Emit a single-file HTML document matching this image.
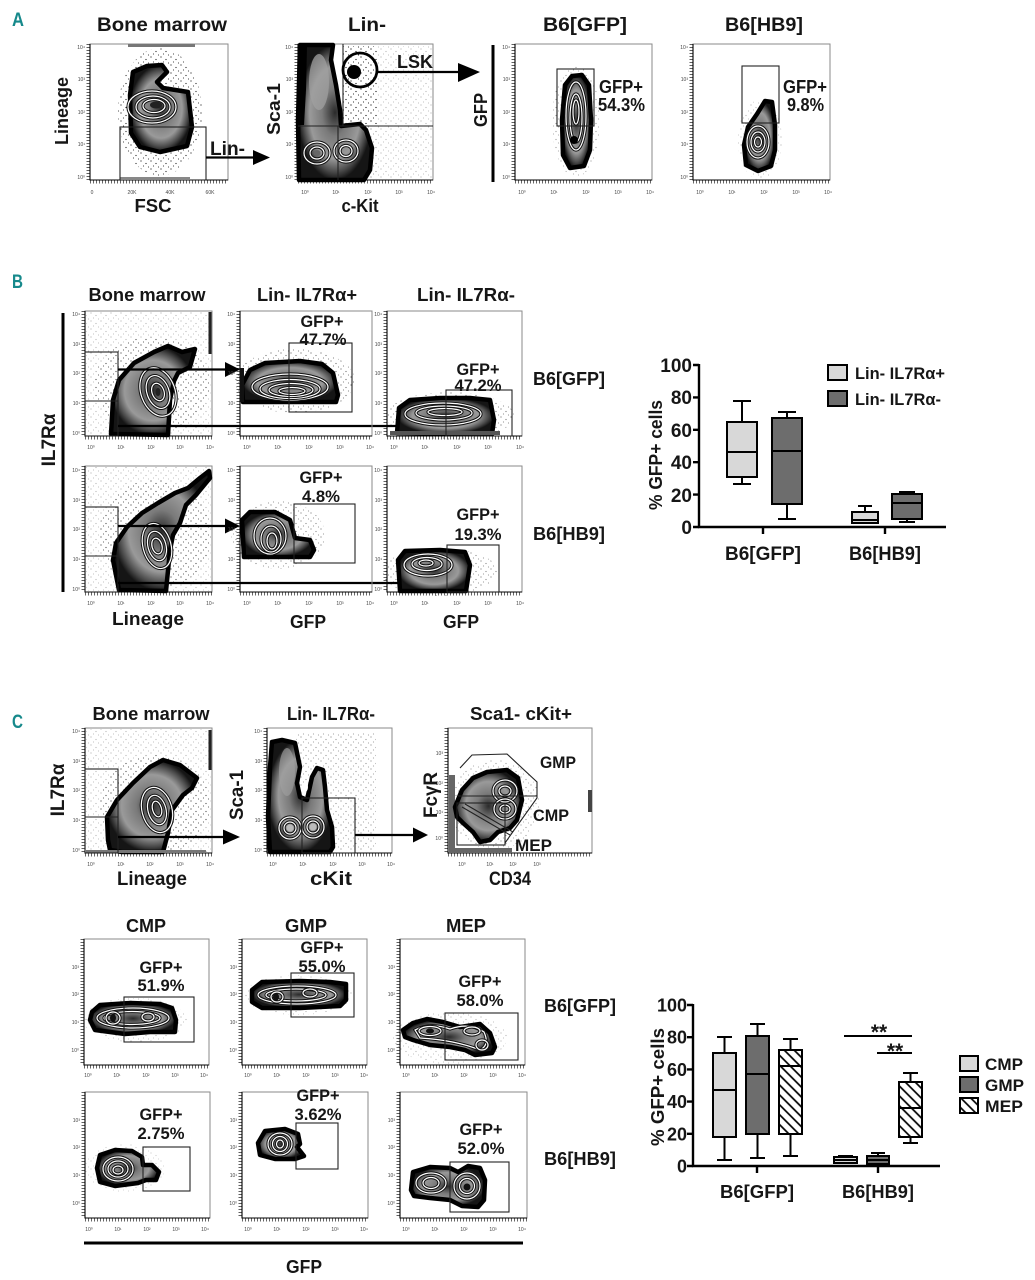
<!DOCTYPE html>
<html><head><meta charset="utf-8"><style>
html,body{margin:0;padding:0;background:#fff}
svg{display:block}
.t{font-family:"Liberation Sans",Arial,sans-serif;font-weight:bold;fill:#161616}
.tk{font-family:"Liberation Sans",Arial,sans-serif;font-size:5px;fill:#444}
.bx{fill:none;stroke:#8a8a8a;stroke-width:1}
.ax{fill:none;stroke:#000;stroke-width:1.1}
.mt{fill:none;stroke:#000;stroke-width:3;stroke-dasharray:.6 2.4}
.g{fill:none;stroke:#222;stroke-width:1.1}
.bl{fill:url(#zg);stroke:#000;stroke-width:4.5;stroke-linejoin:round}
.rk{fill:none;stroke:#111;stroke-width:3.2}
.rw{fill:none;stroke:#fff;stroke-width:1.2}
.ar{fill:none;stroke:#000;stroke-width:2.2}
.th{fill:none;stroke:#000;stroke-width:3}
.ca{fill:none;stroke:#000;stroke-width:2.4}
.bxl{fill:#d8d8d8;stroke:#000;stroke-width:2}
.bxd{fill:#6d6d6d;stroke:#000;stroke-width:2}
.bxh{fill:url(#hatch);stroke:#000;stroke-width:2}
.wh{fill:none;stroke:#000;stroke-width:2}
.lab{font-family:"Liberation Sans",Arial,sans-serif;font-weight:bold;fill:#16898b}
</style></head><body>
<svg width="1035" height="1280" viewBox="0 0 1035 1280" xmlns="http://www.w3.org/2000/svg">
<defs>
<radialGradient id="zg"><stop offset="0" stop-color="#2a2a2a"/><stop offset=".35" stop-color="#7a7a7a"/><stop offset=".68" stop-color="#9a9a9a"/><stop offset=".88" stop-color="#4a4a4a"/><stop offset="1" stop-color="#151515"/></radialGradient>
<pattern id="sp" width="10" height="8" patternUnits="userSpaceOnUse"><circle cx="1" cy="1" r=".6" fill="#000"/><circle cx="6" cy="3.5" r=".6" fill="#000"/><circle cx="8.5" cy="7" r=".55" fill="#000"/><circle cx="3.5" cy="6" r=".55" fill="#000"/></pattern>
<pattern id="hatch" width="7" height="7" patternUnits="userSpaceOnUse" patternTransform="rotate(-45)"><rect width="7" height="7" fill="#fff"/><line x1="1" y1="0" x2="1" y2="7" stroke="#000" stroke-width="1.7"/></pattern>
</defs>
<rect width="1035" height="1280" fill="#fff"/>

<!-- ================= A ================= -->
<text class="lab" x="12" y="26" font-size="19" textLength="12" lengthAdjust="spacingAndGlyphs">A</text>
<text class="t" x="162" y="31" font-size="19" text-anchor="middle" textLength="130" lengthAdjust="spacingAndGlyphs">Bone marrow</text>
<text class="t" x="367" y="31" font-size="19" text-anchor="middle" textLength="38" lengthAdjust="spacingAndGlyphs">Lin-</text>
<text class="t" x="585" y="31" font-size="19" text-anchor="middle" textLength="84" lengthAdjust="spacingAndGlyphs">B6[GFP]</text>
<text class="t" x="764" y="31" font-size="19" text-anchor="middle" textLength="78" lengthAdjust="spacingAndGlyphs">B6[HB9]</text>

<!-- A1 frame -->
<rect class="bx" x="90" y="44" width="138" height="136"/>
<path class="ax" d="M90 44V180H228"/><path class="mt" d="M88 44V180M90 182H228"/>
<text class="tk" text-anchor="end"><tspan x="85" y="49">10⁴</tspan><tspan x="85" y="81">10³</tspan><tspan x="85" y="114">10²</tspan><tspan x="85" y="146">10¹</tspan><tspan x="85" y="179">10⁰</tspan></text>
<text class="tk" text-anchor="middle"><tspan x="92" y="194">0</tspan><tspan x="132" y="194">20K</tspan><tspan x="170" y="194">40K</tspan><tspan x="210" y="194">60K</tspan></text>
<ellipse cx="160" cy="112" rx="42" ry="64" fill="url(#sp)" opacity=".9"/>
<rect x="128" y="44" width="67" height="3" fill="#777"/><rect x="120" y="177" width="70" height="2" fill="#888"/>
<path class="bl" d="M133 72L147 66L162 65L167 72L157 82L163 88L188 92L192 127L187 146L160 152L140 147L131 133L130 95Z"/>
<ellipse class="rk" cx="152" cy="107" rx="24" ry="16"/><ellipse class="rw" cx="152" cy="107" rx="24" ry="16"/>
<ellipse class="rk" cx="153" cy="107" rx="17" ry="11"/><ellipse class="rw" cx="153" cy="107" rx="17" ry="11"/>
<ellipse class="rk" cx="154" cy="106" rx="11" ry="6.5"/><ellipse class="rw" cx="154" cy="106" rx="11" ry="6.5"/>
<ellipse cx="156" cy="105" rx="6" ry="3.5" fill="#222"/>
<rect class="g" x="120" y="127" width="86" height="53"/>
<text class="t" x="210" y="155" font-size="19" textLength="35" lengthAdjust="spacingAndGlyphs">Lin-</text>
<path class="ar" d="M206 157.5H255"/><path d="M253 150L270 157.5L253 165Z"/>
<text class="t" transform="translate(68,111) rotate(-90)" font-size="18" text-anchor="middle" textLength="68" lengthAdjust="spacingAndGlyphs">Lineage</text>
<text class="t" x="153" y="212" font-size="18.5" text-anchor="middle" textLength="37" lengthAdjust="spacingAndGlyphs">FSC</text>

<!-- A2 frame -->
<rect class="bx" x="298" y="44" width="135" height="136"/>
<path class="ax" d="M298 44V180H433"/><path class="mt" d="M296 44V180M298 182H433"/>
<text class="tk" text-anchor="end"><tspan x="293" y="49">10⁴</tspan><tspan x="293" y="81">10³</tspan><tspan x="293" y="114">10²</tspan><tspan x="293" y="146">10¹</tspan><tspan x="293" y="179">10⁰</tspan></text>
<text class="tk" text-anchor="middle"><tspan x="305" y="194">10⁰</tspan><tspan x="336" y="194">10¹</tspan><tspan x="368" y="194">10²</tspan><tspan x="399" y="194">10³</tspan><tspan x="431" y="194">10⁴</tspan></text>
<rect x="343" y="46" width="35" height="78" fill="url(#sp)" opacity="1"/>
<rect x="378" y="46" width="55" height="133" fill="url(#sp)" opacity=".3"/>
<rect x="343" y="126" width="35" height="53" fill="url(#sp)" opacity=".45"/>
<path class="bl" d="M300 45L333 45L331 60L336 85L340 110L341 126L360 124L366 130L372 148L370 170L364 180L299 180L298 120Z"/>
<path d="M301 46L307 46L306 90L304 125L300 125Z" fill="#000"/>
<ellipse cx="319" cy="82" rx="10" ry="28" fill="#a0a0a0" opacity=".75"/>
<ellipse class="rk" cx="317" cy="153" rx="13" ry="11"/><ellipse class="rw" cx="317" cy="153" rx="13" ry="11"/>
<ellipse class="rk" cx="317" cy="153" rx="7" ry="6"/><ellipse class="rw" cx="317" cy="153" rx="7" ry="6"/>
<ellipse cx="317" cy="153" rx="3.5" ry="3" fill="#666"/>
<ellipse class="rk" cx="346" cy="151" rx="12" ry="11"/><ellipse class="rw" cx="346" cy="151" rx="12" ry="11"/>
<ellipse class="rk" cx="346" cy="151" rx="6" ry="5.5"/><ellipse class="rw" cx="346" cy="151" rx="6" ry="5.5"/>
<path class="g" d="M343 44V126M338 126V180M298 126H433"/>
<circle cx="354" cy="72" r="7" fill="#000"/>
<circle cx="360" cy="70" r="17" fill="none" stroke="#000" stroke-width="2.8"/>
<text class="t" x="397" y="68" font-size="18" textLength="36" lengthAdjust="spacingAndGlyphs">LSK</text>
<path class="ar" d="M377 72H460"/><path d="M458 63L480 72L458 82Z"/>
<text class="t" transform="translate(280,109) rotate(-90)" font-size="18" text-anchor="middle" textLength="52" lengthAdjust="spacingAndGlyphs">Sca-1</text>
<text class="t" x="360" y="212" font-size="18" text-anchor="middle" textLength="37" lengthAdjust="spacingAndGlyphs">c-Kit</text>

<!-- A GFP axis -->
<path class="th" d="M493 45V182"/>
<text class="t" transform="translate(487,110) rotate(-90)" font-size="18" text-anchor="middle" textLength="34" lengthAdjust="spacingAndGlyphs">GFP</text>

<!-- A3 frame -->
<rect class="bx" x="515" y="44" width="137" height="136"/>
<path class="ax" d="M515 44V180H652"/><path class="mt" d="M513 44V180M515 182H652"/>
<text class="tk" text-anchor="end"><tspan x="510" y="49">10⁴</tspan><tspan x="510" y="81">10³</tspan><tspan x="510" y="114">10²</tspan><tspan x="510" y="146">10¹</tspan><tspan x="510" y="179">10⁰</tspan></text>
<text class="tk" text-anchor="middle"><tspan x="522" y="194">10⁰</tspan><tspan x="554" y="194">10¹</tspan><tspan x="586" y="194">10²</tspan><tspan x="618" y="194">10³</tspan><tspan x="650" y="194">10⁴</tspan></text>
<ellipse cx="576" cy="121" rx="24" ry="56" fill="url(#sp)" opacity=".4"/>
<path class="bl" d="M565 85L572 76L582 75L589 85L591 120L590 150L584 166L570 168L563 155L562 120Z"/>
<ellipse class="rk" cx="576" cy="116" rx="10" ry="34"/><ellipse class="rw" cx="576" cy="116" rx="10" ry="34"/>
<ellipse class="rk" cx="576" cy="118" rx="6" ry="24"/><ellipse class="rw" cx="576" cy="118" rx="6" ry="24"/>
<ellipse class="rk" cx="576" cy="112" rx="3" ry="12"/><ellipse class="rw" cx="576" cy="112" rx="3" ry="12"/>
<circle cx="574" cy="140" r="4" fill="#000"/>
<rect class="g" x="557" y="69" width="37" height="57"/>
<text class="t" x="599" y="93" font-size="18" textLength="44" lengthAdjust="spacingAndGlyphs">GFP+</text>
<text class="t" x="598" y="111" font-size="18" textLength="47" lengthAdjust="spacingAndGlyphs">54.3%</text>

<!-- A4 frame -->
<rect class="bx" x="693" y="44" width="137" height="136"/>
<path class="ax" d="M693 44V180H830"/><path class="mt" d="M691 44V180M693 182H830"/>
<text class="tk" text-anchor="end"><tspan x="688" y="49">10⁴</tspan><tspan x="688" y="81">10³</tspan><tspan x="688" y="114">10²</tspan><tspan x="688" y="146">10¹</tspan><tspan x="688" y="179">10⁰</tspan></text>
<text class="tk" text-anchor="middle"><tspan x="700" y="194">10⁰</tspan><tspan x="732" y="194">10¹</tspan><tspan x="764" y="194">10²</tspan><tspan x="796" y="194">10³</tspan><tspan x="828" y="194">10⁴</tspan></text>
<ellipse cx="760" cy="140" rx="22" ry="40" fill="url(#sp)" opacity=".3"/>
<path class="bl" d="M765 101L772 102L775 125L775 150L771 166L758 171L746 165L744 145L748 127L757 114Z"/>
<ellipse class="rk" cx="758" cy="142" rx="11" ry="16"/><ellipse class="rw" cx="758" cy="142" rx="11" ry="16"/>
<ellipse class="rk" cx="758" cy="142" rx="7" ry="10"/><ellipse class="rw" cx="758" cy="142" rx="7" ry="10"/>
<ellipse class="rk" cx="758" cy="142" rx="3.5" ry="5"/><ellipse class="rw" cx="758" cy="142" rx="3.5" ry="5"/>
<rect class="g" x="742" y="66" width="37" height="57"/>
<text class="t" x="783" y="93" font-size="18" textLength="44" lengthAdjust="spacingAndGlyphs">GFP+</text>
<text class="t" x="787" y="111" font-size="18" textLength="37" lengthAdjust="spacingAndGlyphs">9.8%</text>

<!-- ================= B ================= -->
<text class="lab" x="12" y="288" font-size="19" textLength="11" lengthAdjust="spacingAndGlyphs">B</text>
<text class="t" x="147" y="301" font-size="18" text-anchor="middle" textLength="117" lengthAdjust="spacingAndGlyphs">Bone marrow</text>
<text class="t" x="307" y="301" font-size="18" text-anchor="middle" textLength="100" lengthAdjust="spacingAndGlyphs">Lin- IL7Rα+</text>
<text class="t" x="466" y="301" font-size="18" text-anchor="middle" textLength="98" lengthAdjust="spacingAndGlyphs">Lin- IL7Rα-</text>
<path class="th" d="M63 313V592"/>
<text class="t" transform="translate(55,440) rotate(-90)" font-size="19" text-anchor="middle">IL7Rα</text>
<text class="t" x="533" y="385" font-size="18" textLength="72" lengthAdjust="spacingAndGlyphs">B6[GFP]</text>
<text class="t" x="533" y="540" font-size="18" textLength="72" lengthAdjust="spacingAndGlyphs">B6[HB9]</text>
<text class="t" x="148" y="625" font-size="18.5" text-anchor="middle" textLength="72" lengthAdjust="spacingAndGlyphs">Lineage</text>
<text class="t" x="308" y="628" font-size="18.5" text-anchor="middle" textLength="36" lengthAdjust="spacingAndGlyphs">GFP</text>
<text class="t" x="461" y="628" font-size="18.5" text-anchor="middle" textLength="36" lengthAdjust="spacingAndGlyphs">GFP</text>

<!-- B row1 P1 -->
<rect class="bx" x="85" y="311" width="127" height="125"/>
<path class="ax" d="M85 311V436H212"/><path class="mt" d="M83 311V436M85 438H212"/>
<text class="tk" text-anchor="end"><tspan x="80" y="316">10⁴</tspan><tspan x="80" y="346">10³</tspan><tspan x="80" y="375">10²</tspan><tspan x="80" y="405">10¹</tspan><tspan x="80" y="435">10⁰</tspan></text>
<text class="tk" text-anchor="middle"><tspan x="91" y="449">10⁰</tspan><tspan x="121" y="449">10¹</tspan><tspan x="151" y="449">10²</tspan><tspan x="180" y="449">10³</tspan><tspan x="210" y="449">10⁴</tspan></text>
<rect x="86" y="312" width="125" height="123" fill="url(#sp)" opacity=".3"/>
<ellipse cx="152" cy="385" rx="58" ry="48" fill="url(#sp)" opacity=".6"/>
<rect x="208.5" y="312" width="3" height="42" fill="#222"/>
<path class="bl" d="M111 434L113 400L119 380L134 363L154 352L168 346L182 352L195 349L190 367L178 373L174 381L170 400L168 435Z"/>
<ellipse class="rk" cx="158" cy="392" rx="17" ry="25" transform="rotate(-20 158 392)"/><ellipse class="rw" cx="158" cy="392" rx="17" ry="25" transform="rotate(-20 158 392)"/>
<ellipse class="rk" cx="158" cy="392" rx="11" ry="17" transform="rotate(-20 158 392)"/><ellipse class="rw" cx="158" cy="392" rx="11" ry="17" transform="rotate(-20 158 392)"/>
<ellipse class="rk" cx="158" cy="392" rx="6" ry="9" transform="rotate(-20 158 392)"/><ellipse class="rw" cx="158" cy="392" rx="6" ry="9" transform="rotate(-20 158 392)"/>
<ellipse cx="158" cy="392" rx="2.5" ry="4" fill="#222"/>
<rect class="g" x="85" y="352" width="33" height="84"/><path class="g" d="M85 401H118"/>
<path class="ar" d="M118 369.5H228"/><path d="M225 362L240 369.5L225 377Z"/>
<path class="ar" d="M118 426H408"/>

<!-- B row1 P2 -->
<rect class="bx" x="240" y="311" width="132" height="125"/>
<path class="ax" d="M240 311V436H372"/><path class="mt" d="M238 311V436M240 438H372"/>
<text class="tk" text-anchor="end"><tspan x="235" y="316">10⁴</tspan><tspan x="235" y="346">10³</tspan><tspan x="235" y="375">10²</tspan><tspan x="235" y="405">10¹</tspan><tspan x="235" y="435">10⁰</tspan></text>
<text class="tk" text-anchor="middle"><tspan x="247" y="449">10⁰</tspan><tspan x="278" y="449">10¹</tspan><tspan x="309" y="449">10²</tspan><tspan x="340" y="449">10³</tspan><tspan x="370" y="449">10⁴</tspan></text>
<ellipse cx="295" cy="381" rx="60" ry="32" fill="url(#sp)" opacity=".6"/>
<path class="bl" d="M243 402L242 385L250 370L265 363L300 361L322 364L333 373L338 395L336 402Z"/>
<rect x="240" y="368" width="4" height="34" fill="#111"/>
<ellipse class="rk" cx="290" cy="387" rx="38" ry="13"/><ellipse class="rw" cx="290" cy="387" rx="38" ry="13"/>
<ellipse class="rk" cx="290" cy="389" rx="30" ry="9.5"/><ellipse class="rw" cx="290" cy="389" rx="30" ry="9.5"/>
<ellipse class="rk" cx="291" cy="390" rx="22" ry="6.5"/><ellipse class="rw" cx="291" cy="390" rx="22" ry="6.5"/>
<ellipse class="rk" cx="292" cy="391" rx="13" ry="3.5"/><ellipse class="rw" cx="292" cy="391" rx="13" ry="3.5"/>
<rect class="g" x="289" y="343" width="63" height="69"/>
<text class="t" x="322" y="327" font-size="17" text-anchor="middle" textLength="43" lengthAdjust="spacingAndGlyphs">GFP+</text>
<text class="t" x="323" y="345" font-size="17" text-anchor="middle" textLength="47" lengthAdjust="spacingAndGlyphs">47.7%</text>

<!-- B row1 P3 -->
<rect class="bx" x="387" y="311" width="135" height="125"/>
<path class="ax" d="M387 311V436H522"/><path class="mt" d="M385 311V436M387 438H522"/>
<text class="tk" text-anchor="end"><tspan x="382" y="316">10⁴</tspan><tspan x="382" y="346">10³</tspan><tspan x="382" y="375">10²</tspan><tspan x="382" y="405">10¹</tspan><tspan x="382" y="435">10⁰</tspan></text>
<text class="tk" text-anchor="middle"><tspan x="394" y="449">10⁰</tspan><tspan x="425" y="449">10¹</tspan><tspan x="457" y="449">10²</tspan><tspan x="488" y="449">10³</tspan><tspan x="520" y="449">10⁴</tspan></text>
<ellipse cx="450" cy="416" rx="64" ry="24" fill="url(#sp)" opacity=".55"/>
<path class="bl" d="M397 433L399 408L410 400L440 398L470 398L490 400L494 420L492 434Z"/>
<rect x="390" y="431" width="110" height="4" fill="#555"/>
<ellipse class="rk" cx="443" cy="414" rx="38" ry="11"/><ellipse class="rw" cx="443" cy="414" rx="38" ry="11"/>
<ellipse class="rk" cx="444" cy="413" rx="28" ry="7"/><ellipse class="rw" cx="444" cy="413" rx="28" ry="7"/>
<ellipse class="rk" cx="445" cy="412" rx="17" ry="3.5"/><ellipse class="rw" cx="445" cy="412" rx="17" ry="3.5"/>
<rect class="g" x="446" y="390" width="66" height="46"/>
<text class="t" x="478" y="375" font-size="17" text-anchor="middle" textLength="43" lengthAdjust="spacingAndGlyphs">GFP+</text>
<text class="t" x="478" y="391" font-size="17" text-anchor="middle" textLength="47" lengthAdjust="spacingAndGlyphs">47.2%</text>

<!-- B row2 P1 -->
<rect class="bx" x="85" y="466" width="127" height="126"/>
<path class="ax" d="M85 466V592H212"/><path class="mt" d="M83 466V592M85 594H212"/>
<text class="tk" text-anchor="end"><tspan x="80" y="472">10⁴</tspan><tspan x="80" y="502">10³</tspan><tspan x="80" y="531">10²</tspan><tspan x="80" y="561">10¹</tspan><tspan x="80" y="591">10⁰</tspan></text>
<text class="tk" text-anchor="middle"><tspan x="91" y="605">10⁰</tspan><tspan x="121" y="605">10¹</tspan><tspan x="151" y="605">10²</tspan><tspan x="180" y="605">10³</tspan><tspan x="210" y="605">10⁴</tspan></text>
<rect x="86" y="467" width="125" height="124" fill="url(#sp)" opacity=".3"/>
<ellipse cx="155" cy="535" rx="56" ry="55" fill="url(#sp)" opacity=".6"/>
<path class="bl" d="M119 590L113 560L116 543L127 527L142 513L158 503L175 493L188 488L200 478L209 471L210 478L196 495L186 505L180 523L173 535L170 550L166 591Z"/>
<ellipse class="rk" cx="157" cy="546" rx="14" ry="23" transform="rotate(-15 157 546)"/><ellipse class="rw" cx="157" cy="546" rx="14" ry="23" transform="rotate(-15 157 546)"/>
<ellipse class="rk" cx="157" cy="546" rx="9" ry="15" transform="rotate(-15 157 546)"/><ellipse class="rw" cx="157" cy="546" rx="9" ry="15" transform="rotate(-15 157 546)"/>
<ellipse class="rk" cx="157" cy="546" rx="5" ry="8" transform="rotate(-15 157 546)"/><ellipse class="rw" cx="157" cy="546" rx="5" ry="8" transform="rotate(-15 157 546)"/>
<rect class="g" x="85" y="507" width="33" height="85"/><path class="g" d="M85 556H118"/>
<path class="ar" d="M118 526H228"/><path d="M225 518.5L240 526L225 533.5Z"/>
<path class="ar" d="M118 583H420"/>

<!-- B row2 P2 -->
<rect class="bx" x="240" y="466" width="132" height="126"/>
<path class="ax" d="M240 466V592H372"/><path class="mt" d="M238 466V592M240 594H372"/>
<text class="tk" text-anchor="end"><tspan x="235" y="472">10⁴</tspan><tspan x="235" y="502">10³</tspan><tspan x="235" y="531">10²</tspan><tspan x="235" y="561">10¹</tspan><tspan x="235" y="591">10⁰</tspan></text>
<text class="tk" text-anchor="middle"><tspan x="247" y="605">10⁰</tspan><tspan x="278" y="605">10¹</tspan><tspan x="309" y="605">10²</tspan><tspan x="340" y="605">10³</tspan><tspan x="370" y="605">10⁴</tspan></text>
<ellipse cx="278" cy="535" rx="47" ry="34" fill="url(#sp)" opacity=".5"/>
<path class="bl" d="M244 557L242 520L250 512L275 512L290 520L295 538L310 540L314 550L310 557Z"/>
<ellipse class="rk" cx="270" cy="536" rx="16" ry="18"/><ellipse class="rw" cx="270" cy="536" rx="16" ry="18"/>
<ellipse class="rk" cx="271" cy="539" rx="10" ry="13"/><ellipse class="rw" cx="271" cy="539" rx="10" ry="13"/>
<ellipse class="rk" cx="272" cy="541" rx="5" ry="8"/><ellipse class="rw" cx="272" cy="541" rx="5" ry="8"/>
<rect class="g" x="294" y="504" width="61" height="59"/>
<text class="t" x="321" y="483" font-size="17" text-anchor="middle" textLength="43" lengthAdjust="spacingAndGlyphs">GFP+</text>
<text class="t" x="321" y="502" font-size="17" text-anchor="middle" textLength="38" lengthAdjust="spacingAndGlyphs">4.8%</text>

<!-- B row2 P3 -->
<rect class="bx" x="387" y="466" width="135" height="126"/>
<path class="ax" d="M387 466V592H522"/><path class="mt" d="M385 466V592M387 594H522"/>
<text class="tk" text-anchor="end"><tspan x="382" y="472">10⁴</tspan><tspan x="382" y="502">10³</tspan><tspan x="382" y="531">10²</tspan><tspan x="382" y="561">10¹</tspan><tspan x="382" y="591">10⁰</tspan></text>
<text class="tk" text-anchor="middle"><tspan x="394" y="605">10⁰</tspan><tspan x="425" y="605">10¹</tspan><tspan x="457" y="605">10²</tspan><tspan x="488" y="605">10³</tspan><tspan x="520" y="605">10⁴</tspan></text>
<ellipse cx="440" cy="572" rx="58" ry="24" fill="url(#sp)" opacity=".5"/>
<path class="bl" d="M400 591L398 560L405 551L440 550L465 552L470 565L466 591Z"/>
<ellipse class="rk" cx="428" cy="565" rx="24" ry="11"/><ellipse class="rw" cx="428" cy="565" rx="24" ry="11"/>
<ellipse class="rk" cx="427" cy="564" rx="15" ry="6.5"/><ellipse class="rw" cx="427" cy="564" rx="15" ry="6.5"/>
<ellipse class="rk" cx="426" cy="563" rx="7" ry="3"/><ellipse class="rw" cx="426" cy="563" rx="7" ry="3"/>
<rect class="g" x="447" y="545" width="52" height="47"/>
<text class="t" x="478" y="520" font-size="17" text-anchor="middle" textLength="43" lengthAdjust="spacingAndGlyphs">GFP+</text>
<text class="t" x="478" y="540" font-size="17" text-anchor="middle" textLength="47" lengthAdjust="spacingAndGlyphs">19.3%</text>

<!-- B chart -->
<path class="ca" d="M699 364V527H946"/>
<path class="ca" d="M693 365H699M693 397.4H699M693 429.8H699M693 462.2H699M693 494.6H699M693 527H699M763 527V534M885 527V534"/>
<g class="t" font-size="19" text-anchor="end">
<text x="692" y="372">100</text><text x="692" y="404">80</text><text x="692" y="437">60</text><text x="692" y="469">40</text><text x="692" y="502">20</text><text x="692" y="534">0</text>
</g>
<text class="t" transform="translate(662,455) rotate(-90)" font-size="18" text-anchor="middle" textLength="110" lengthAdjust="spacingAndGlyphs">% GFP+ cells</text>
<path class="wh" d="M742 401V422M742 477V484M733 401H751M733 484H751"/>
<rect class="bxl" x="727" y="422" width="30" height="55"/><path class="wh" d="M727 452H757"/>
<path class="wh" d="M787 412V418M787 504V519M778 412H796M778 519H796"/>
<rect class="bxd" x="772" y="418" width="30" height="86"/><path class="wh" d="M772 451H802"/>
<path class="wh" d="M865 506V512M858 506H872"/>
<rect class="bxl" x="852" y="512" width="26" height="11"/><path class="wh" d="M852 520H878"/>
<path class="wh" d="M907 492V495M907 519V522M899 492H915M899 522H915"/>
<rect class="bxd" x="892" y="494" width="30" height="25"/><path class="wh" d="M892 503H922"/>
<text class="t" x="763" y="560" font-size="19" text-anchor="middle" textLength="76" lengthAdjust="spacingAndGlyphs">B6[GFP]</text>
<text class="t" x="885" y="560" font-size="19" text-anchor="middle" textLength="72" lengthAdjust="spacingAndGlyphs">B6[HB9]</text>
<rect class="bxl" x="828" y="365" width="19" height="15"/>
<rect class="bxd" x="828" y="391" width="19" height="15"/>
<text class="t" x="855" y="379" font-size="17" textLength="90" lengthAdjust="spacingAndGlyphs">Lin- IL7Rα+</text>
<text class="t" x="855" y="405" font-size="17" textLength="86" lengthAdjust="spacingAndGlyphs">Lin- IL7Rα-</text>

<!-- ================= C ================= -->
<text class="lab" x="12" y="728" font-size="19" textLength="11" lengthAdjust="spacingAndGlyphs">C</text>
<text class="t" x="151" y="720" font-size="18" text-anchor="middle" textLength="117" lengthAdjust="spacingAndGlyphs">Bone marrow</text>
<text class="t" x="331" y="720" font-size="18" text-anchor="middle" textLength="88" lengthAdjust="spacingAndGlyphs">Lin- IL7Rα-</text>
<text class="t" x="521" y="720" font-size="18" text-anchor="middle" textLength="102" lengthAdjust="spacingAndGlyphs">Sca1- cKit+</text>
<text class="t" transform="translate(64,790) rotate(-90)" font-size="19" text-anchor="middle">IL7Rα</text>
<text class="t" transform="translate(243,795) rotate(-90)" font-size="19" text-anchor="middle" textLength="50" lengthAdjust="spacingAndGlyphs">Sca-1</text>
<text class="t" transform="translate(437,795) rotate(-90)" font-size="19" text-anchor="middle" textLength="46" lengthAdjust="spacingAndGlyphs">FcγR</text>
<text class="t" x="152" y="885" font-size="19" text-anchor="middle" textLength="70" lengthAdjust="spacingAndGlyphs">Lineage</text>
<text class="t" x="331" y="885" font-size="19" text-anchor="middle" textLength="42" lengthAdjust="spacingAndGlyphs">cKit</text>
<text class="t" x="510" y="885" font-size="19" text-anchor="middle" textLength="42" lengthAdjust="spacingAndGlyphs">CD34</text>

<!-- C top P1 -->
<rect class="bx" x="85" y="728" width="127" height="125"/>
<path class="ax" d="M85 728V853H212"/><path class="mt" d="M83 728V853M85 855H212"/>
<text class="tk" text-anchor="end"><tspan x="80" y="733">10⁴</tspan><tspan x="80" y="763">10³</tspan><tspan x="80" y="792">10²</tspan><tspan x="80" y="822">10¹</tspan><tspan x="80" y="852">10⁰</tspan></text>
<text class="tk" text-anchor="middle"><tspan x="91" y="866">10⁰</tspan><tspan x="121" y="866">10¹</tspan><tspan x="150" y="866">10²</tspan><tspan x="180" y="866">10³</tspan><tspan x="210" y="866">10⁴</tspan></text>
<rect x="86" y="729" width="125" height="123" fill="url(#sp)" opacity=".3"/>
<ellipse cx="155" cy="805" rx="55" ry="50" fill="url(#sp)" opacity=".6"/>
<rect x="208.5" y="730" width="3" height="40" fill="#222"/>
<path class="bl" d="M108 840L107 817L117 800L133 783L150 767L163 760L180 765L197 778L192 788L183 795L172 810L168 833L163 852L122 852L110 850Z"/>
<ellipse class="rk" cx="157" cy="810" rx="15" ry="23" transform="rotate(-15 157 810)"/><ellipse class="rw" cx="157" cy="810" rx="15" ry="23" transform="rotate(-15 157 810)"/>
<ellipse class="rk" cx="157" cy="810" rx="9" ry="15" transform="rotate(-15 157 810)"/><ellipse class="rw" cx="157" cy="810" rx="9" ry="15" transform="rotate(-15 157 810)"/>
<ellipse class="rk" cx="157" cy="809" rx="4.5" ry="8" transform="rotate(-15 157 809)"/><ellipse class="rw" cx="157" cy="809" rx="4.5" ry="8" transform="rotate(-15 157 809)"/>
<rect x="86" y="850" width="120" height="3" fill="#777"/>
<rect class="g" x="85" y="769" width="33" height="84"/><path class="g" d="M85 817H118"/>
<path class="ar" d="M118 837H225"/><path d="M223 829.5L240 837L223 844.5Z"/>

<!-- C top P2 -->
<rect class="bx" x="267" y="728" width="125" height="125"/>
<path class="ax" d="M267 728V853H392"/><path class="mt" d="M265 728V853M267 855H392"/>
<text class="tk" text-anchor="end"><tspan x="262" y="733">10⁴</tspan><tspan x="262" y="763">10³</tspan><tspan x="262" y="792">10²</tspan><tspan x="262" y="822">10¹</tspan><tspan x="262" y="852">10⁰</tspan></text>
<text class="tk" text-anchor="middle"><tspan x="273" y="866">10⁰</tspan><tspan x="303" y="866">10¹</tspan><tspan x="333" y="866">10²</tspan><tspan x="362" y="866">10³</tspan><tspan x="391" y="866">10⁴</tspan></text>
<rect x="296" y="733" width="80" height="118" fill="url(#sp)" opacity=".45"/>
<path class="bl" d="M272 742L282 740L295 743L300 767L297 783L300 797L307 800L312 777L317 768L323 770L325 787L327 810L332 827L333 847L330 852L270 852L268 817L270 767Z"/>
<ellipse cx="287" cy="772" rx="8" ry="24" fill="#a0a0a0" opacity=".65"/>
<ellipse cx="305" cy="787" rx="3" ry="5" fill="#fff"/>
<ellipse class="rk" cx="290" cy="828" rx="11" ry="11"/><ellipse class="rw" cx="290" cy="828" rx="11" ry="11"/>
<ellipse class="rk" cx="290" cy="828" rx="6" ry="6"/><ellipse class="rw" cx="290" cy="828" rx="6" ry="6"/>
<ellipse cx="290" cy="828" rx="3.5" ry="3.5" fill="#bbb"/>
<ellipse class="rk" cx="313" cy="827" rx="11" ry="11"/><ellipse class="rw" cx="313" cy="827" rx="11" ry="11"/>
<ellipse class="rk" cx="313" cy="827" rx="6" ry="6"/><ellipse class="rw" cx="313" cy="827" rx="6" ry="6"/>
<ellipse cx="313" cy="827" rx="3.5" ry="3.5" fill="#bbb"/>
<rect class="g" x="302" y="798" width="53" height="55"/>
<path class="ar" d="M355 835H415"/><path d="M413 827.5L428 835L413 842.5Z"/>

<!-- C top P3 -->
<rect class="bx" x="448" y="728" width="144" height="125"/>
<path class="ax" d="M448 728V853H592"/><path class="mt" d="M446 728V853M448 855H592"/>
<text class="tk" text-anchor="end"><tspan x="443" y="755">10³</tspan><tspan x="443" y="785">10²</tspan><tspan x="443" y="814">10¹</tspan><tspan x="443" y="840">10⁰</tspan></text>
<text class="tk" text-anchor="middle"><tspan x="462" y="866">10⁰</tspan><tspan x="490" y="866">10¹</tspan><tspan x="513" y="866">10²</tspan><tspan x="537" y="866">10³</tspan></text>
<ellipse cx="495" cy="805" rx="45" ry="45" fill="url(#sp)" opacity=".4"/>
<rect x="449" y="775" width="6" height="78" fill="#666"/>
<rect x="450" y="848" width="62" height="5" fill="#666"/>
<rect x="588" y="790" width="4" height="22" fill="#444"/>
<path class="bl" d="M455 807L462 790L473 778L487 772L507 770L518 778L522 800L517 820L510 828L498 832L490 840L480 842L473 832L463 823L457 817Z"/>
<ellipse class="rk" cx="505" cy="791" rx="12" ry="11"/><ellipse class="rw" cx="505" cy="791" rx="12" ry="11"/>
<ellipse class="rk" cx="505" cy="791" rx="6" ry="5"/><ellipse class="rw" cx="505" cy="791" rx="6" ry="5"/>
<ellipse class="rk" cx="505" cy="809" rx="11" ry="10"/><ellipse class="rw" cx="505" cy="809" rx="11" ry="10"/>
<ellipse class="rk" cx="505" cy="809" rx="5" ry="4"/><ellipse class="rw" cx="505" cy="809" rx="5" ry="4"/>
<path class="g" d="M460 768L472 755L507 754L537 782L537 798L512 833L505 843"/>
<rect class="g" x="457" y="803" width="48" height="42"/>
<path class="g" d="M458 796H537M462 807L510 835M465 804L513 832"/>
<text class="t" x="540" y="768" font-size="17" textLength="36" lengthAdjust="spacingAndGlyphs">GMP</text>
<text class="t" x="533" y="821" font-size="17" textLength="36" lengthAdjust="spacingAndGlyphs">CMP</text>
<text class="t" x="515" y="851" font-size="17" textLength="37" lengthAdjust="spacingAndGlyphs">MEP</text>

<!-- C bottom titles -->
<text class="t" x="146" y="932" font-size="18" text-anchor="middle" textLength="40" lengthAdjust="spacingAndGlyphs">CMP</text>
<text class="t" x="306" y="932" font-size="18" text-anchor="middle" textLength="42" lengthAdjust="spacingAndGlyphs">GMP</text>
<text class="t" x="466" y="932" font-size="18" text-anchor="middle" textLength="40" lengthAdjust="spacingAndGlyphs">MEP</text>
<text class="t" x="544" y="1012" font-size="18" textLength="72" lengthAdjust="spacingAndGlyphs">B6[GFP]</text>
<text class="t" x="544" y="1165" font-size="18" textLength="72" lengthAdjust="spacingAndGlyphs">B6[HB9]</text>
<path class="th" d="M84 1243H523"/>
<text class="t" x="304" y="1273" font-size="18.5" text-anchor="middle" textLength="36" lengthAdjust="spacingAndGlyphs">GFP</text>

<!-- C row1 CMP -->
<rect class="bx" x="84" y="939" width="125" height="126"/>
<path class="ax" d="M84 939V1065H209"/><path class="mt" d="M82 939V1065M84 1067H209"/>
<text class="tk" text-anchor="end"><tspan x="79" y="969">10³</tspan><tspan x="79" y="996">10²</tspan><tspan x="79" y="1024">10¹</tspan><tspan x="79" y="1052">10⁰</tspan></text>
<text class="tk" text-anchor="middle"><tspan x="88" y="1077">10⁰</tspan><tspan x="117" y="1077">10¹</tspan><tspan x="146" y="1077">10²</tspan><tspan x="175" y="1077">10³</tspan><tspan x="204" y="1077">10⁴</tspan></text>
<ellipse cx="135" cy="1020" rx="52" ry="22" fill="url(#sp)" opacity=".3"/>
<path class="bl" d="M92 1012L100 1005L130 1003L160 1004L172 1008L176 1020L175 1032L150 1032L125 1034L95 1030L90 1020Z"/>
<ellipse class="rk" cx="133" cy="1018" rx="36" ry="10"/><ellipse class="rw" cx="133" cy="1018" rx="36" ry="10"/>
<ellipse class="rk" cx="132" cy="1018" rx="28" ry="6.5"/><ellipse class="rw" cx="132" cy="1018" rx="28" ry="6.5"/>
<ellipse class="rk" cx="113" cy="1018" rx="7" ry="6"/><ellipse class="rw" cx="113" cy="1018" rx="7" ry="6"/>
<ellipse class="rk" cx="148" cy="1017" rx="6" ry="4"/><ellipse class="rw" cx="148" cy="1017" rx="6" ry="4"/>
<ellipse cx="113" cy="1018" rx="3" ry="4" fill="#111"/>
<rect class="g" x="124" y="997" width="70" height="45"/>
<text class="t" x="161" y="973" font-size="17" text-anchor="middle" textLength="43" lengthAdjust="spacingAndGlyphs">GFP+</text>
<text class="t" x="161" y="991" font-size="17" text-anchor="middle" textLength="47" lengthAdjust="spacingAndGlyphs">51.9%</text>

<!-- C row1 GMP -->
<rect class="bx" x="242" y="939" width="125" height="126"/>
<path class="ax" d="M242 939V1065H367"/><path class="mt" d="M240 939V1065M242 1067H367"/>
<text class="tk" text-anchor="end"><tspan x="237" y="969">10³</tspan><tspan x="237" y="996">10²</tspan><tspan x="237" y="1024">10¹</tspan><tspan x="237" y="1052">10⁰</tspan></text>
<text class="tk" text-anchor="middle"><tspan x="248" y="1077">10⁰</tspan><tspan x="277" y="1077">10¹</tspan><tspan x="306" y="1077">10²</tspan><tspan x="335" y="1077">10³</tspan><tspan x="364" y="1077">10⁴</tspan></text>
<ellipse cx="298" cy="995" rx="54" ry="20" fill="url(#sp)" opacity=".3"/>
<path class="bl" d="M252 990L262 982L300 981L330 982L346 984L346 1000L340 1006L300 1008L262 1008L252 1002Z"/>
<ellipse class="rk" cx="297" cy="995" rx="39" ry="9"/><ellipse class="rw" cx="297" cy="995" rx="39" ry="9"/>
<ellipse class="rk" cx="296" cy="995" rx="30" ry="6"/><ellipse class="rw" cx="296" cy="995" rx="30" ry="6"/>
<ellipse class="rk" cx="277" cy="997" rx="6" ry="5"/><ellipse class="rw" cx="277" cy="997" rx="6" ry="5"/>
<ellipse class="rk" cx="310" cy="993" rx="7" ry="4"/><ellipse class="rw" cx="310" cy="993" rx="7" ry="4"/>
<ellipse cx="276" cy="997" rx="3" ry="4" fill="#111"/>
<rect class="g" x="291" y="973" width="63" height="44"/>
<text class="t" x="322" y="953" font-size="17" text-anchor="middle" textLength="43" lengthAdjust="spacingAndGlyphs">GFP+</text>
<text class="t" x="322" y="972" font-size="17" text-anchor="middle" textLength="47" lengthAdjust="spacingAndGlyphs">55.0%</text>

<!-- C row1 MEP -->
<rect class="bx" x="400" y="939" width="125" height="126"/>
<path class="ax" d="M400 939V1065H525"/><path class="mt" d="M398 939V1065M400 1067H525"/>
<text class="tk" text-anchor="end"><tspan x="395" y="969">10³</tspan><tspan x="395" y="996">10²</tspan><tspan x="395" y="1024">10¹</tspan><tspan x="395" y="1052">10⁰</tspan></text>
<text class="tk" text-anchor="middle"><tspan x="406" y="1077">10⁰</tspan><tspan x="435" y="1077">10¹</tspan><tspan x="464" y="1077">10²</tspan><tspan x="493" y="1077">10³</tspan><tspan x="522" y="1077">10⁴</tspan></text>
<ellipse cx="450" cy="1038" rx="57" ry="26" fill="url(#sp)" opacity=".3"/>
<path class="bl" d="M403 1030L413 1023L427 1019L443 1022L460 1027L480 1024L490 1033L495 1047L492 1053L475 1055L465 1050L450 1047L430 1045L413 1040L405 1037Z"/>
<path class="rk" d="M415 1030Q430 1022 450 1029Q470 1022 484 1032Q490 1045 480 1050Q455 1040 420 1038Z"/><path class="rw" d="M415 1030Q430 1022 450 1029Q470 1022 484 1032Q490 1045 480 1050Q455 1040 420 1038Z"/>
<ellipse class="rk" cx="430" cy="1031" rx="11" ry="4.5"/><ellipse class="rw" cx="430" cy="1031" rx="11" ry="4.5"/>
<ellipse class="rk" cx="472" cy="1031" rx="8" ry="4"/><ellipse class="rw" cx="472" cy="1031" rx="8" ry="4"/>
<ellipse class="rk" cx="482" cy="1045" rx="6" ry="5"/><ellipse class="rw" cx="482" cy="1045" rx="6" ry="5"/>
<ellipse cx="430" cy="1031" rx="4" ry="2.5" fill="#111"/>
<rect class="g" x="445" y="1013" width="73" height="47"/>
<text class="t" x="480" y="987" font-size="17" text-anchor="middle" textLength="43" lengthAdjust="spacingAndGlyphs">GFP+</text>
<text class="t" x="480" y="1006" font-size="17" text-anchor="middle" textLength="47" lengthAdjust="spacingAndGlyphs">58.0%</text>

<!-- C row2 CMP -->
<rect class="bx" x="85" y="1092" width="125" height="126"/>
<path class="ax" d="M85 1092V1218H210"/><path class="mt" d="M83 1092V1218M85 1220H210"/>
<text class="tk" text-anchor="end"><tspan x="80" y="1122">10³</tspan><tspan x="80" y="1149">10²</tspan><tspan x="80" y="1177">10¹</tspan><tspan x="80" y="1205">10⁰</tspan></text>
<text class="tk" text-anchor="middle"><tspan x="89" y="1231">10⁰</tspan><tspan x="118" y="1231">10¹</tspan><tspan x="147" y="1231">10²</tspan><tspan x="176" y="1231">10³</tspan><tspan x="205" y="1231">10⁴</tspan></text>
<ellipse cx="125" cy="1168" rx="40" ry="24" fill="url(#sp)" opacity=".2"/>
<path class="bl" d="M97 1168L100 1155L115 1150L132 1151L142 1157L143 1165L152 1165L159 1172L156 1180L146 1180L138 1183L115 1186L100 1182Z"/>
<ellipse class="rk" cx="118" cy="1169" rx="15" ry="12"/><ellipse class="rw" cx="118" cy="1169" rx="15" ry="12"/>
<ellipse class="rk" cx="118" cy="1169" rx="10" ry="8"/><ellipse class="rw" cx="118" cy="1169" rx="10" ry="8"/>
<ellipse class="rk" cx="118" cy="1170" rx="5" ry="4"/><ellipse class="rw" cx="118" cy="1170" rx="5" ry="4"/>
<rect class="g" x="143" y="1147" width="47" height="44"/>
<text class="t" x="161" y="1120" font-size="17" text-anchor="middle" textLength="43" lengthAdjust="spacingAndGlyphs">GFP+</text>
<text class="t" x="161" y="1139" font-size="17" text-anchor="middle" textLength="47" lengthAdjust="spacingAndGlyphs">2.75%</text>

<!-- C row2 GMP -->
<rect class="bx" x="242" y="1092" width="126" height="126"/>
<path class="ax" d="M242 1092V1218H368"/><path class="mt" d="M240 1092V1218M242 1220H368"/>
<text class="tk" text-anchor="end"><tspan x="237" y="1122">10³</tspan><tspan x="237" y="1149">10²</tspan><tspan x="237" y="1177">10¹</tspan><tspan x="237" y="1205">10⁰</tspan></text>
<text class="tk" text-anchor="middle"><tspan x="248" y="1231">10⁰</tspan><tspan x="277" y="1231">10¹</tspan><tspan x="306" y="1231">10²</tspan><tspan x="335" y="1231">10³</tspan><tspan x="364" y="1231">10⁴</tspan></text>
<path class="bl" d="M258 1143L265 1131L285 1129L298 1134L300 1144L297 1147L304 1156L295 1159L275 1159L260 1155Z"/>
<ellipse class="rk" cx="280" cy="1144" rx="12" ry="11"/><ellipse class="rw" cx="280" cy="1144" rx="12" ry="11"/>
<ellipse class="rk" cx="280" cy="1144" rx="7.5" ry="7.5"/><ellipse class="rw" cx="280" cy="1144" rx="7.5" ry="7.5"/>
<ellipse class="rk" cx="280" cy="1144" rx="3.5" ry="4"/><ellipse class="rw" cx="280" cy="1144" rx="3.5" ry="4"/>
<rect class="g" x="296" y="1123" width="42" height="46"/>
<text class="t" x="318" y="1101" font-size="17" text-anchor="middle" textLength="43" lengthAdjust="spacingAndGlyphs">GFP+</text>
<text class="t" x="318" y="1120" font-size="17" text-anchor="middle" textLength="47" lengthAdjust="spacingAndGlyphs">3.62%</text>

<!-- C row2 MEP -->
<rect class="bx" x="400" y="1092" width="127" height="126"/>
<path class="ax" d="M400 1092V1218H527"/><path class="mt" d="M398 1092V1218M400 1220H527"/>
<text class="tk" text-anchor="end"><tspan x="395" y="1122">10³</tspan><tspan x="395" y="1149">10²</tspan><tspan x="395" y="1177">10¹</tspan><tspan x="395" y="1205">10⁰</tspan></text>
<text class="tk" text-anchor="middle"><tspan x="406" y="1231">10⁰</tspan><tspan x="435" y="1231">10¹</tspan><tspan x="464" y="1231">10²</tspan><tspan x="493" y="1231">10³</tspan><tspan x="522" y="1231">10⁴</tspan></text>
<path class="bl" d="M411 1190L413 1172L430 1167L450 1168L458 1172L468 1166L480 1168L485 1180L484 1200L478 1207L462 1206L450 1200L430 1198L414 1196Z"/>
<ellipse class="rk" cx="431" cy="1183" rx="15" ry="10"/><ellipse class="rw" cx="431" cy="1183" rx="15" ry="10"/>
<ellipse class="rk" cx="431" cy="1183" rx="8" ry="5.5"/><ellipse class="rw" cx="431" cy="1183" rx="8" ry="5.5"/>
<ellipse class="rk" cx="467" cy="1186" rx="13" ry="13"/><ellipse class="rw" cx="467" cy="1186" rx="13" ry="13"/>
<ellipse class="rk" cx="467" cy="1186" rx="7.5" ry="7.5"/><ellipse class="rw" cx="467" cy="1186" rx="7.5" ry="7.5"/>
<circle cx="467" cy="1187" r="3.5" fill="#111"/>
<rect class="g" x="450" y="1162" width="59" height="50"/>
<text class="t" x="481" y="1135" font-size="17" text-anchor="middle" textLength="43" lengthAdjust="spacingAndGlyphs">GFP+</text>
<text class="t" x="481" y="1154" font-size="17" text-anchor="middle" textLength="47" lengthAdjust="spacingAndGlyphs">52.0%</text>

<!-- C chart -->
<path class="ca" d="M693 1004V1166H940"/>
<path class="ca" d="M687 1005H693M687 1037.2H693M687 1069.4H693M687 1101.6H693M687 1133.8H693M687 1166H693M757 1166V1173M878 1166V1173"/>
<g class="t" font-size="18" text-anchor="end">
<text x="687" y="1011.5">100</text><text x="687" y="1043.7">80</text><text x="687" y="1075.9">60</text><text x="687" y="1108.1">40</text><text x="687" y="1140.3">20</text><text x="687" y="1172.5">0</text>
</g>
<text class="t" transform="translate(664,1087) rotate(-90)" font-size="18" text-anchor="middle" textLength="118" lengthAdjust="spacingAndGlyphs">% GFP+ cells</text>
<path class="wh" d="M724.5 1037V1053M724.5 1137V1160M717 1037H732M717 1160H732"/>
<rect class="bxl" x="713" y="1053" width="23" height="84"/><path class="wh" d="M713 1090H736"/>
<path class="wh" d="M757.5 1024V1036M757.5 1134V1158M750 1024H765M750 1158H765"/>
<rect class="bxd" x="746" y="1036" width="23" height="98"/><path class="wh" d="M746 1074H769"/>
<path class="wh" d="M790.5 1039V1050M790.5 1134V1156M783 1039H798M783 1156H798"/>
<rect class="bxh" x="779" y="1050" width="23" height="84"/><path class="wh" d="M779 1066H802"/>
<path class="wh" d="M845.5 1156V1157M838 1156H853"/>
<rect class="bxl" x="834" y="1157" width="23" height="6"/><path class="wh" d="M834 1160H857"/>
<path class="wh" d="M878 1153V1156M871 1153H885"/>
<rect class="bxd" x="867" y="1156" width="22" height="8"/><path class="wh" d="M867 1160H889"/>
<path class="wh" d="M910.5 1073V1082M910.5 1137V1143M903 1073H918M903 1143H918"/>
<rect class="bxh" x="899" y="1082" width="23" height="55"/><path class="wh" d="M899 1108H922"/>
<path class="wh" d="M844 1036H912M877 1053H912"/>
<text class="t" x="879" y="1039" font-size="21" text-anchor="middle">**</text>
<text class="t" x="895" y="1058" font-size="21" text-anchor="middle">**</text>
<text class="t" x="757" y="1198" font-size="18" text-anchor="middle" textLength="74" lengthAdjust="spacingAndGlyphs">B6[GFP]</text>
<text class="t" x="878" y="1198" font-size="18" text-anchor="middle" textLength="72" lengthAdjust="spacingAndGlyphs">B6[HB9]</text>
<rect class="bxl" x="960" y="1056" width="18" height="15"/>
<rect class="bxd" x="960" y="1077" width="18" height="15"/>
<rect class="bxh" x="960" y="1098" width="18" height="15"/>
<text class="t" x="985" y="1070" font-size="17" textLength="38" lengthAdjust="spacingAndGlyphs">CMP</text>
<text class="t" x="985" y="1091" font-size="17" textLength="39" lengthAdjust="spacingAndGlyphs">GMP</text>
<text class="t" x="985" y="1112" font-size="17" textLength="38" lengthAdjust="spacingAndGlyphs">MEP</text>
</svg>
</body></html>
